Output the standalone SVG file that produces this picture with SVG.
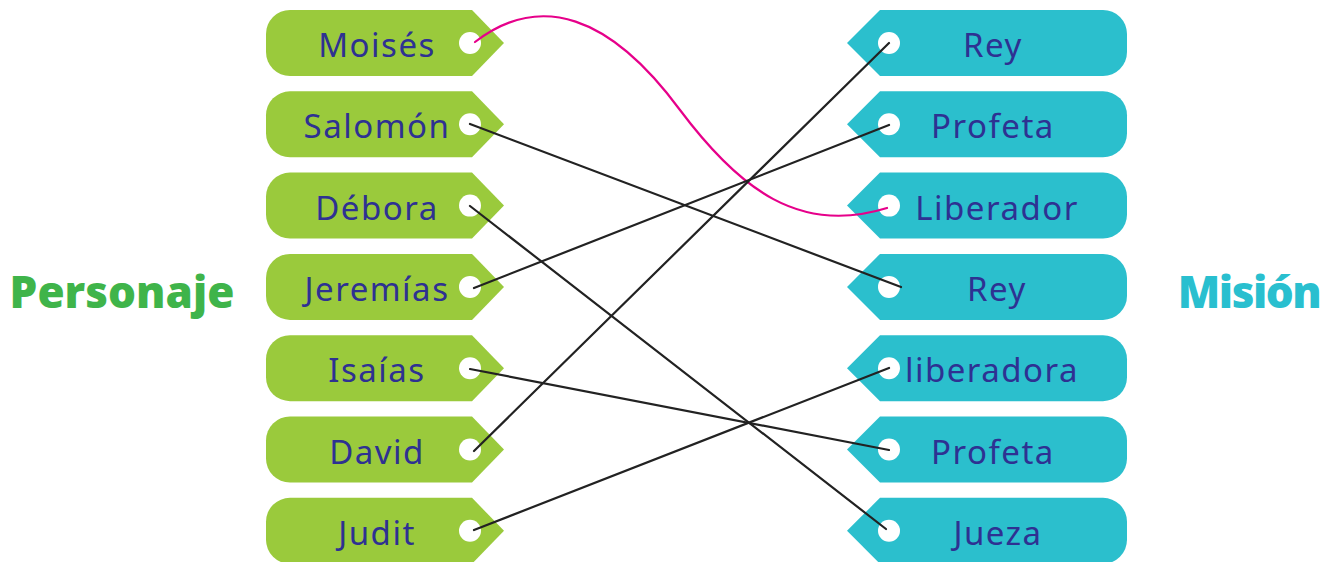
<svg xmlns="http://www.w3.org/2000/svg" width="1330" height="562" viewBox="0 0 1330 562">
<style>
.lt{fill:#9aca3c}
.rt{fill:#2bbfcd}
.hole{fill:#ffffff}
.lbl{font-family:"Noto Sans",sans-serif;font-size:33px;fill:#2e3192;text-anchor:middle;letter-spacing:1.5px}
.ttl{font-family:"Open Sans",sans-serif;font-weight:800;font-size:44px}
.ln{stroke:#222222;stroke-width:2.2;fill:none;stroke-linecap:round}
.pk{stroke:#e6008a;stroke-width:2.2;fill:none;stroke-linecap:round}
</style>
<defs>
<path id="ltag" d="M290,0 H472 L504,33 L472,66 H290 A24,24 0 0 1 266,42 V24 A24,24 0 0 1 290,0 Z"/>
<path id="rtag" d="M880,0 H1103 A24,24 0 0 1 1127,24 V42 A24,24 0 0 1 1103,66 H880 L847,33 Z"/>
</defs>
<rect width="1330" height="562" fill="#ffffff"/>
<text class="ttl" x="122" y="308" fill="#3fb44a" text-anchor="middle">Personaje</text>
<text class="ttl" x="1249" y="308" fill="#29bfcf" text-anchor="middle" letter-spacing="-1.5">Misión</text>
<g id="l1" transform="translate(0,10)"><use href="#ltag" class="lt"/><circle class="hole" cx="470" cy="33" r="11"/><text class="lbl" x="377" y="47">Moisés</text></g>
<g id="l2" transform="translate(0,91.3)"><use href="#ltag" class="lt"/><circle class="hole" cx="470" cy="33" r="11"/><text class="lbl" x="377" y="47">Salomón</text></g>
<g id="l3" transform="translate(0,172.6)"><use href="#ltag" class="lt"/><circle class="hole" cx="470" cy="33" r="11"/><text class="lbl" x="377" y="47">Débora</text></g>
<g id="l4" transform="translate(0,253.9)"><use href="#ltag" class="lt"/><circle class="hole" cx="470" cy="33" r="11"/><text class="lbl" x="377" y="47">Jeremías</text></g>
<g id="l5" transform="translate(0,335.2)"><use href="#ltag" class="lt"/><circle class="hole" cx="470" cy="33" r="11"/><text class="lbl" x="377" y="47">Isaías</text></g>
<g id="l6" transform="translate(0,416.5)"><use href="#ltag" class="lt"/><circle class="hole" cx="470" cy="33" r="11"/><text class="lbl" x="377" y="47">David</text></g>
<g id="l7" transform="translate(0,497.8)"><use href="#ltag" class="lt"/><circle class="hole" cx="470" cy="33" r="11"/><text class="lbl" x="377" y="47">Judit</text></g>
<g id="r1" transform="translate(0,10)"><use href="#rtag" class="rt"/><circle class="hole" cx="889" cy="33" r="11"/><text class="lbl" x="993" y="47">Rey</text></g>
<g id="r2" transform="translate(0,91.3)"><use href="#rtag" class="rt"/><circle class="hole" cx="889" cy="33" r="11"/><text class="lbl" x="993" y="47">Profeta</text></g>
<g id="r3" transform="translate(0,172.6)"><use href="#rtag" class="rt"/><circle class="hole" cx="889" cy="33" r="11"/><text class="lbl" x="997" y="47">Liberador</text></g>
<g id="r4" transform="translate(0,253.9)"><use href="#rtag" class="rt"/><circle class="hole" cx="889" cy="33" r="11"/><text class="lbl" x="997" y="47">Rey</text></g>
<g id="r5" transform="translate(0,335.2)"><use href="#rtag" class="rt"/><circle class="hole" cx="889" cy="33" r="11"/><text class="lbl" x="992" y="47">liberadora</text></g>
<g id="r6" transform="translate(0,416.5)"><use href="#rtag" class="rt"/><circle class="hole" cx="889" cy="33" r="11"/><text class="lbl" x="993" y="47">Profeta</text></g>
<g id="r7" transform="translate(0,497.8)"><use href="#rtag" class="rt"/><circle class="hole" cx="889" cy="33" r="11"/><text class="lbl" x="998" y="47">Jueza</text></g>
<g id="connectors">
<path class="pk" d="M475,42 C540,-8 610,15 680,110 C740,190 800,235 887,208"/>
<line class="ln" x1="470" y1="124" x2="901" y2="287"/>
<line class="ln" x1="470" y1="206" x2="886" y2="529"/>
<line class="ln" x1="474" y1="288" x2="889" y2="125"/>
<line class="ln" x1="470" y1="369" x2="889" y2="450"/>
<line class="ln" x1="474" y1="451" x2="889" y2="43"/>
<line class="ln" x1="474" y1="530" x2="889" y2="368"/>
</g>
</svg>
